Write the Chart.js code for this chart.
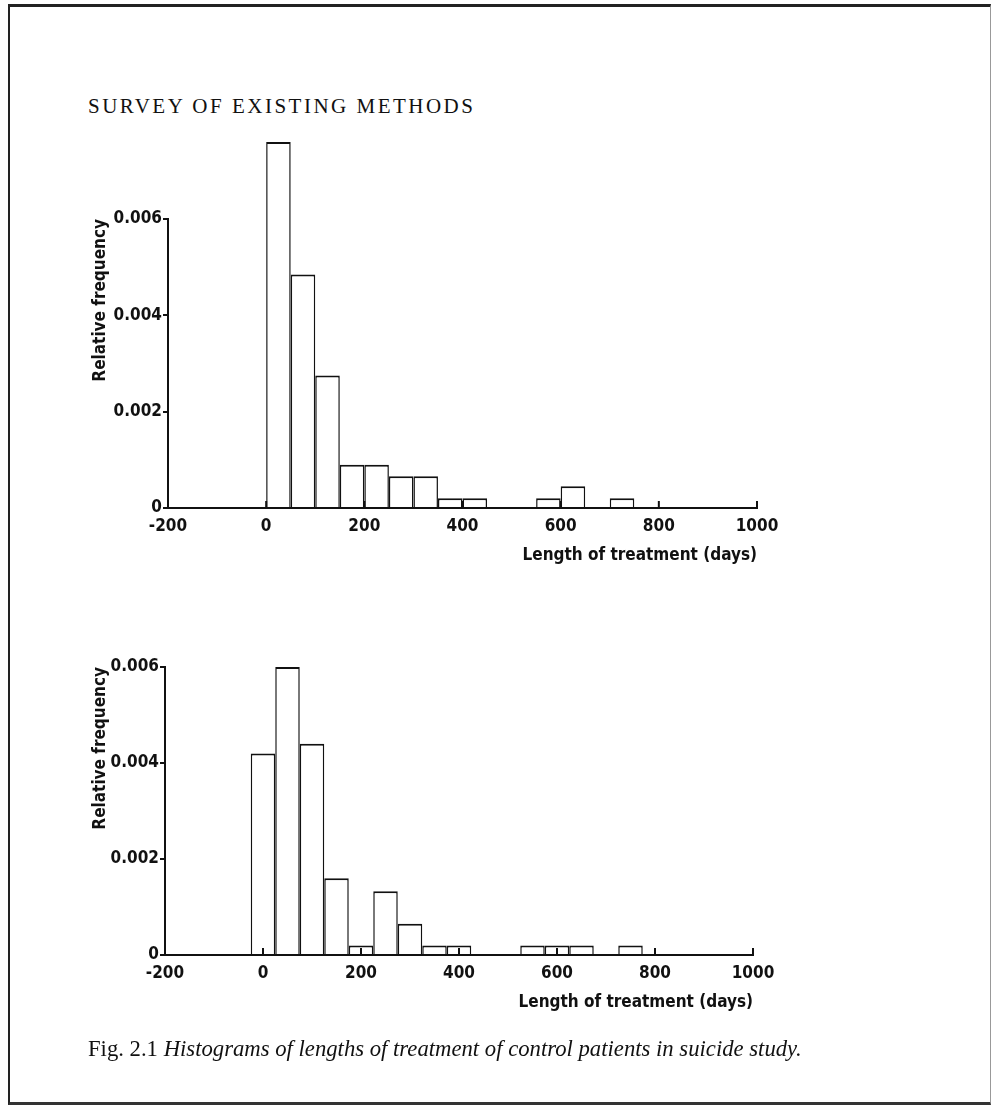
<!DOCTYPE html>
<html>
<head>
<meta charset="utf-8">
<title>Histograms of lengths of treatment</title>
<script src="https://cdn.jsdelivr.net/npm/chart.js@4.4.0/dist/chart.umd.min.js"></script>
<style>
  html, body { margin: 0; padding: 0; background: #fff; }
  #page { position: relative; width: 994px; height: 1113px; overflow: hidden; background: #fff; }
  .frame { position: absolute; left: 8px; top: 4px; width: 983px; height: 1101px;
           border-top: 3px solid #222; border-left: 2px solid #222; border-bottom: 3px solid #333;
           border-right: 1px solid #999; box-sizing: border-box; }
  .heading { position: absolute; left: 88px; top: 94px; font-family: 'Liberation Serif', serif;
             font-size: 21px; letter-spacing: 2.5px; color: #111; white-space: nowrap; }
  .caption { position: absolute; left: 88px; top: 1036px; font-family: 'Liberation Serif', serif;
             font-size: 22.7px; color: #111; white-space: nowrap; }
  .caption i { font-style: italic; }
  .plot { position: absolute; left: 0; width: 994px; height: 480px; }
</style>
</head>
<body>
<div id="page">
  <div class="frame"></div>
  <div class="heading">SURVEY OF EXISTING METHODS</div>
  <div class="plot" style="top:100px"><canvas id="topChart"></canvas></div>
  <div class="plot" style="top:560px"><canvas id="bottomChart"></canvas></div>
  <div class="caption">Fig. 2.1 <i>Histograms of lengths of treatment of control patients in suicide study.</i></div>
</div>
<script>
// ---- data ----
// upper histogram: 50-day bins starting at 0 (bin centres)
const topCenters = [25, 75, 125, 175, 225, 275, 325, 375, 425, 475, 525, 575, 625, 675, 725];
const topFreq = [0.0076, 0.00485, 0.00275, 0.0009, 0.0009, 0.00066, 0.00066, 0.0002, 0.0002, 0, 0, 0.0002, 0.00045, 0, 0.0002];

// lower histogram: 50-day bins centred on multiples of 50
const bottomCenters = [0, 50, 100, 150, 200, 250, 300, 350, 400, 450, 500, 550, 600, 650, 700, 750];
const bottomFreq = [0.0042, 0.006, 0.0044, 0.0016, 0.0002, 0.00133, 0.00065, 0.0002, 0.0002, 0, 0, 0.0002, 0.0002, 0.0002, 0, 0.0002];

const xTicks = [-200, 0, 200, 400, 600, 800, 1000];
const yTicks = [0, 0.002, 0.004, 0.006];

const xTitle = 'Length of treatment (days)';
const yTitle = 'Relative frequency';

const INK = '#111';
const axisFont = { family: "'DejaVu Sans Condensed', 'DejaVu Sans', sans-serif", size: 17, weight: 'bold' };
const titleFont = { family: "'DejaVu Sans Condensed', 'DejaVu Sans', sans-serif", size: 17, weight: 'bold' };

// small tick marks pointing up into the plot along the x axis
const innerTicks = {
  id: 'innerTicks',
  afterDatasetsDraw(chart) {
    const { ctx, scales: { x, y } } = chart;
    const base = y.getPixelForValue(0);
    ctx.save();
    ctx.strokeStyle = INK;
    ctx.lineWidth = 2;
    xTicks.forEach(v => {
      const px = x.getPixelForValue(v);
      ctx.beginPath();
      ctx.moveTo(px, base);
      ctx.lineTo(px, base - 7);
      ctx.stroke();
    });
    ctx.restore();
  }
};

function makeHistogram(id, centers, freq, g) {
  const ctx = document.getElementById(id).getContext('2d');
  return new Chart(ctx, {
    type: 'bar',
    data: {
      datasets: [{
        data: centers.map((c, i) => ({ x: c, y: freq[i] })),
        backgroundColor: '#fff',
        borderColor: INK,
        borderWidth: { top: 2, left: 1.5, right: 1.5, bottom: 0 },
        borderSkipped: false,
        inflateAmount: 0,
        barPercentage: 1,
        categoryPercentage: 1,
        clip: false
      }]
    },
    options: {
      responsive: true,
      maintainAspectRatio: false,
      animation: false,
      layout: { padding: { left: g.left, right: g.right, top: g.top, bottom: g.bottom } },
      plugins: { legend: { display: false }, tooltip: { enabled: false } },
      scales: {
        x: {
          type: 'linear',
          offset: false,
          min: -200,
          max: 1000,
          afterBuildTicks: s => { s.ticks = xTicks.map(v => ({ value: v })); },
          afterFit: s => { s.height = 62; },
          grid: { display: false, offset: false },
          border: { display: true, color: INK, width: 2, z: 1 },
          ticks: { color: INK, font: axisFont, padding: 0, maxRotation: 0, autoSkip: false,
                    callback: v => String(v) },
          title: { display: true, text: xTitle, align: 'end', color: INK, font: titleFont, padding: { top: 0, bottom: 4 } }
        },
        y: {
          min: 0,
          max: 0.006,
          afterBuildTicks: s => { s.ticks = yTicks.map(v => ({ value: v })); },
          afterFit: s => { s.width = g.yWidth; },
          grid: { display: true, drawOnChartArea: false, drawTicks: true, tickLength: 5, color: INK, lineWidth: 2 },
          border: { display: true, color: INK, width: 2, z: 1 },
          ticks: { color: INK, font: axisFont, padding: 1,
                    callback: v => (v === 0 ? '0' : v.toFixed(3)) },
          title: { display: true, text: yTitle, align: 'end', color: INK, font: titleFont, padding: 0 }
        }
      }
    },
    plugins: [innerTicks]
  });
}

makeHistogram('topChart', topCenters, topFreq, { left: 90, right: 237, top: 119, bottom: 10, yWidth: 78 });
makeHistogram('bottomChart', bottomCenters, bottomFreq, { left: 90, right: 241, top: 107, bottom: 23, yWidth: 75 });
</script>
</body>
</html>
